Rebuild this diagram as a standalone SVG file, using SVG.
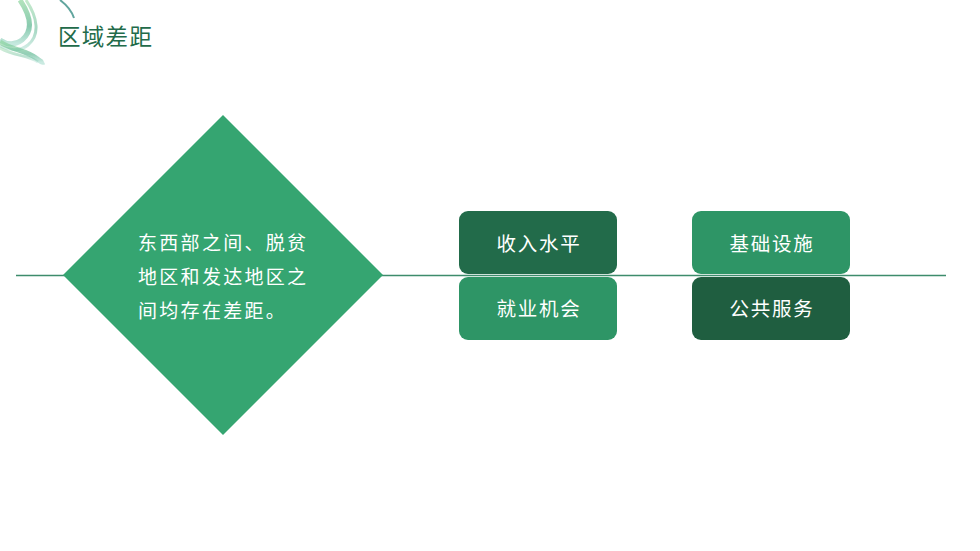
<svg xmlns="http://www.w3.org/2000/svg" width="980" height="551" viewBox="0 0 980 551">
<defs>
<style>
.cjk{font-family:"Noto Sans CJK SC","Noto Sans",sans-serif;}
.lbl{fill:#ffffff;font-size:19.5px;letter-spacing:1.8px;text-anchor:middle;}
.dt{fill:#ffffff;font-size:19px;letter-spacing:2.3px;}
.dark{fill:#226B4A;}
.mid{fill:#2E9566;}
</style>
<linearGradient id="rib" x1="0" y1="0" x2="0" y2="1">
<stop offset="0" stop-color="#7fd08f"/>
<stop offset="0.6" stop-color="#3aa77a"/>
<stop offset="1" stop-color="#9fd9c9"/>
</linearGradient>
</defs>
<rect width="980" height="551" fill="#ffffff"/>
<g id="logo" fill="none" stroke="url(#rib)">
<path d="M20 0 C30 15 34 30 22 40 C14 46 6 44 0 40" stroke-width="5" opacity="0.6"/>
<path d="M26 0 C38 18 40 35 28 45 C20 52 8 50 0 46" stroke-width="3" opacity="0.45"/>
<path d="M0 42 C12 50 26 50 36 58 C40 61 42 63 44 62" stroke-width="5" opacity="0.55"/>
<path d="M0 48 C14 56 28 55 38 62" stroke-width="3" opacity="0.35"/>
<path d="M60 0 C68 6 72 12 74 18" stroke="#3a8f86" stroke-width="2" opacity="0.8"/>
</g>
<text id="title" class="cjk" x="58" y="45" font-size="22.5" letter-spacing="1.3" fill="#226B4A">区域差距</text>
<g id="connectors">
<line x1="16" y1="275.5" x2="946" y2="275.5" stroke="#3D8C6C" stroke-width="1.3"/>
</g>
<g id="diamond">
<polygon points="223,115 383,275 223,435 63,275" fill="#35A571"/>
<text class="cjk dt" x="138" y="250">东西部之间、脱贫</text>
<text class="cjk dt" x="138" y="284">地区和发达地区之</text>
<text class="cjk dt" x="138" y="318">间均存在差距。</text>
</g>
<g id="n1">
<rect class="dark" x="459" y="211" width="158" height="63" rx="9"/>
<text class="cjk lbl" x="539" y="251">收入水平</text>
</g>
<g id="n2">
<rect class="mid" x="459" y="277" width="158" height="63" rx="9"/>
<text class="cjk lbl" x="539" y="316">就业机会</text>
</g>
<g id="n3">
<rect class="mid" x="692" y="211" width="158" height="63" rx="9"/>
<text class="cjk lbl" x="772" y="251">基础设施</text>
</g>
<g id="n4">
<rect fill="#1F5E40" x="692" y="277" width="158" height="63" rx="9"/>
<text class="cjk lbl" x="772" y="316">公共服务</text>
</g>
</svg>
